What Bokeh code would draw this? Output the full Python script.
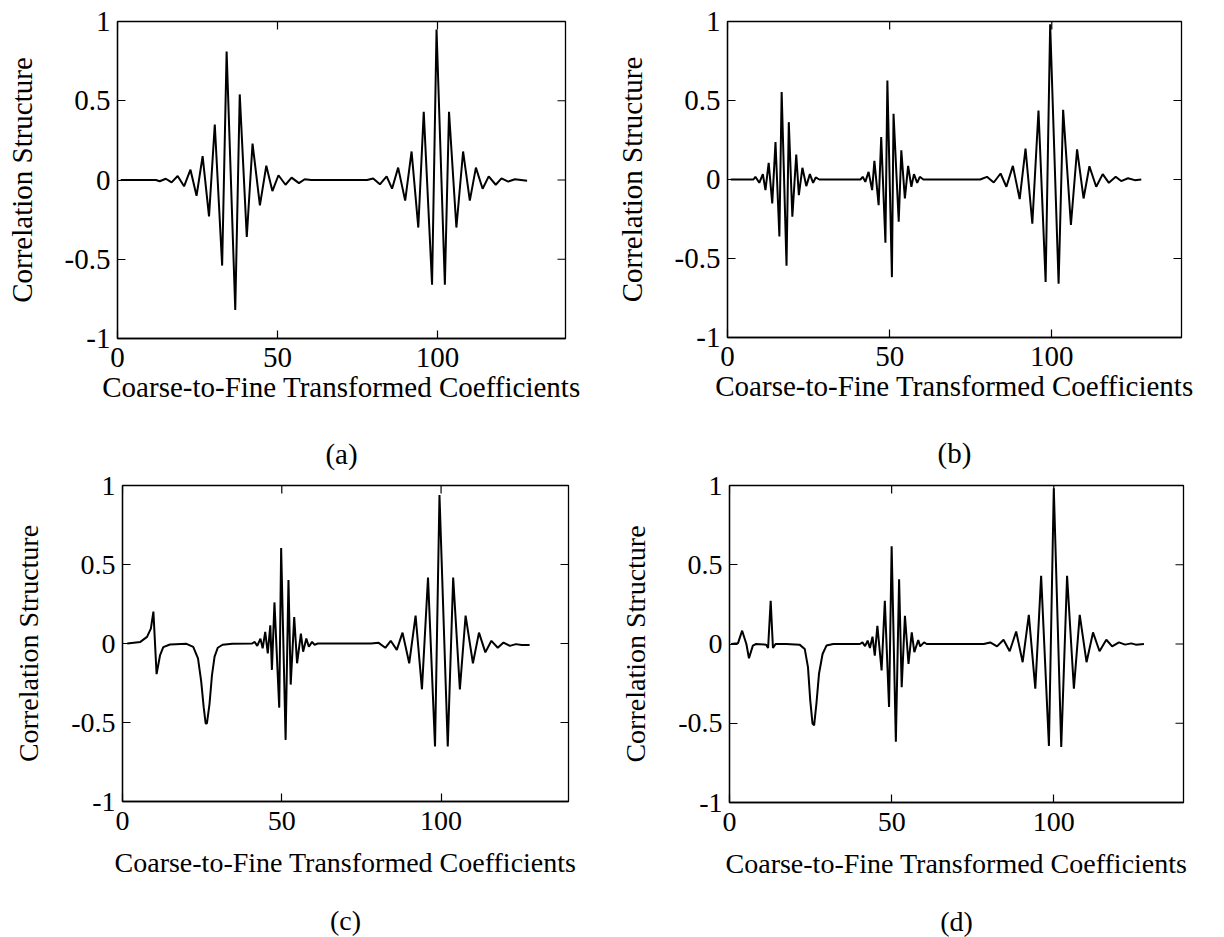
from math import pi

from bokeh.plotting import figure
from bokeh.models import Range1d, FixedTicker, LinearAxis
from bokeh.layouts import row, column
from bokeh.embed import file_html
from bokeh.resources import INLINE

FONT = "Liberation Serif"

# Correlation structure curves (vertex positions along the coefficient index)
a_x = [1, 12, 13.2, 15.1, 16.9, 18.8, 20.8, 22.8, 24.7, 26.6, 28.6, 30.4, 32.7, 34.1, 36.8, 38.2,
       40.4, 42.2, 44.5, 46.5, 48.4, 50.3, 52.5, 54.4, 56.7, 58.5, 60.5, 78, 79.9, 82.0, 84.1, 85.8,
       87.7, 89.9, 91.9, 94.0, 95.7, 98.3, 99.7, 102.3, 103.6, 105.9, 108.0, 110.1, 112.0, 114.1,
       116.0, 118.2, 120.0, 122.1, 124.2, 128]
a_y = [0, 0, -0.008, 0.008, -0.015, 0.025, -0.04, 0.065, -0.1, 0.15, -0.23, 0.35, -0.54, 0.81, -0.82, 0.54,
       -0.36, 0.23, -0.16, 0.09, -0.07, 0.03, -0.03, 0.015, -0.02, 0.005, 0, 0, 0.01, -0.027, 0.023, -0.055,
       0.078, -0.13, 0.18, -0.30, 0.43, -0.66, 0.95, -0.66, 0.43, -0.30, 0.18, -0.13, 0.078, -0.055,
       0.023, -0.03, 0.01, -0.01, 0.005, -0.004]

b_x = [1, 8, 8.6, 9.8, 10.9, 11.7, 12.7, 13.8, 14.8, 16.0, 16.7, 18.2, 18.9, 20.0, 21.2, 22.0, 23.1,
       24.3, 25.4, 26.4, 27.2, 28.3,
       41, 41.7, 42.5, 43.5, 44.6, 45.3, 46.6, 47.4, 48.7, 49.3, 50.7, 51.2, 52.8, 53.6, 54.7, 55.7,
       56.7, 57.5, 58.5, 59.3, 60.4,
       77.9, 80.0, 82.1, 84.2, 86.0, 88.0, 90.1, 91.9, 94.0, 95.9, 98.1, 99.5, 102.1, 103.5, 105.9,
       107.8, 109.8, 111.6, 113.7, 115.7, 117.6, 119.7, 121.4, 123.5, 125.6, 127.6]
b_y = [0, 0, 0.017, -0.021, 0.034, -0.067, 0.105, -0.151, 0.237, -0.361, 0.553, -0.546, 0.363, -0.235,
       0.158, -0.099, 0.074, -0.042, 0.034, -0.021, 0.013, 0,
       0, 0.017, -0.015, 0.048, -0.067, 0.118, -0.162, 0.269, -0.40, 0.626, -0.618, 0.416, -0.267, 0.185,
       -0.12, 0.086, -0.046, 0.034, -0.021, 0.017, 0,
       0, 0.017, -0.019, 0.038, -0.046, 0.086, -0.124, 0.195, -0.28, 0.437, -0.649, 0.983, -0.66, 0.441,
       -0.288, 0.191, -0.12, 0.084, -0.046, 0.034, -0.021, 0.017, -0.01, 0.008, -0.004, 0]

c_x = [1.5, 5.6, 7.7, 8.9, 9.7, 10.7, 11.8, 12.8, 14.9, 20.1, 22.2, 23.7, 24.7, 25.5, 26.1, 26.5, 27.3,
       28.1, 28.9, 29.9, 31.4, 34.5,
       40.7, 41.5, 42.3, 43.3, 44.0, 44.8, 45.6, 46.4, 46.9, 47.7, 49.2, 49.8, 51.2, 52.1, 52.8, 53.9,
       54.8, 56.0, 56.7, 57.7, 58.5, 59.5, 60.3, 61.3,
       78, 80.4, 82.5, 84.2, 86.1, 87.9, 90.0, 92.0, 94.0, 95.9, 98.1, 99.5, 102.1, 103.8, 105.9, 107.7,
       110.0, 111.9, 113.9, 115.8, 117.8, 119.6, 121.6, 123.5, 125.3, 127.8]
c_y = [0, 0.01, 0.042, 0.094, 0.202, -0.194, -0.073, -0.023, -0.006, -0.002, -0.021, -0.094, -0.24,
       -0.406, -0.506, -0.506, -0.385, -0.198, -0.083, -0.027, -0.008, -0.002,
       0, 0.01, -0.015, 0.031, -0.031, 0.073, -0.063, 0.115, -0.167, 0.26, -0.406, 0.604, -0.61, 0.402,
       -0.26, 0.167, -0.125, 0.063, -0.052, 0.031, -0.021, 0.01, -0.008, 0,
       0, 0.004, -0.027, 0.017, -0.04, 0.069, -0.125, 0.177, -0.29, 0.417, -0.652, 0.94, -0.652, 0.417,
       -0.29, 0.177, -0.125, 0.069, -0.056, 0.017, -0.027, 0.006, -0.015, -0.004, -0.01, -0.01]

d_x = [0.5, 2.6, 3.9, 5.2, 6.0, 7.2, 8.2, 11.3, 11.9, 12.7, 13.4, 14.2, 17.5, 21.6, 23.2, 24.2, 24.9,
       25.6, 26.1, 26.8, 27.6, 28.7, 29.9, 32.0,
       40.2, 41.0, 41.8, 42.6, 43.3, 44.1, 44.8, 45.6, 46.9, 47.9, 49.2, 50.0, 51.3, 52.3, 53.1, 54.1,
       55.2, 56.2, 57.0, 58.2, 58.8, 60.0, 60.8,
       78.4, 80.4, 82.5, 84.5, 86.4, 88.4, 90.4, 92.3, 94.3, 96.1, 98.5, 100.0, 102.3, 104.1, 106.2,
       108.0, 110.1, 112.1, 114.1, 116.2, 118.0, 120.1, 122.0, 123.9, 125.3, 127.8]
d_y = [0, 0.004, 0.084, 0, -0.09, -0.01, 0, -0.004, -0.025, 0.272, -0.025, 0, 0, -0.004, -0.031, -0.146,
       -0.356, -0.502, -0.513, -0.377, -0.188, -0.063, -0.01, 0,
       0, 0.01, -0.013, 0.021, -0.025, 0.046, -0.073, 0.115, -0.167, 0.272, -0.397, 0.617, -0.617, 0.408,
       -0.272, 0.178, -0.126, 0.073, -0.052, 0.025, -0.015, 0.01, 0,
       0, 0.01, -0.015, 0.027, -0.046, 0.079, -0.115, 0.184, -0.282, 0.43, -0.644, 0.983, -0.649, 0.43,
       -0.282, 0.184, -0.115, 0.073, -0.046, 0.027, -0.015, 0.01, -0.004, 0.004, -0.004, 0]

x_ticks = [0, 50, 100]
y_ticks = [-1, -0.5, 0, 0.5, 1]
x_tick_text = {0: "0", 50: "50", 100: "100"}
y_tick_text = {-1: "-1", -0.5: "-0.5", 0: "0", 0.5: "0.5", 1: "1"}
x_title = "Coarse-to-Fine Transformed Coefficients"
y_title = "Correlation Structure"
panel_tags = ["(a)", "(b)", "(c)", "(d)"]

X_LIM = (0, 140)
Y_LIM = (-1, 1)
TICK_LEN = 8


def style_axis(ax, ticks, overrides, fs):
    ax.ticker = FixedTicker(ticks=ticks)
    ax.major_label_overrides = overrides
    ax.major_tick_in = TICK_LEN
    ax.major_tick_out = 0
    ax.minor_tick_line_color = None
    ax.major_tick_line_color = "black"
    ax.major_tick_line_width = 1.2
    ax.axis_line_color = "black"
    ax.axis_line_width = 1.3
    ax.major_label_text_font = FONT
    ax.major_label_text_color = "black"
    ax.major_label_text_font_size = fs
    ax.axis_label_text_font = FONT
    ax.axis_label_text_font_style = "normal"
    ax.axis_label_text_color = "black"
    ax.axis_label_text_font_size = fs


def panel(xs, ys, tag, left, top, fw, fh, right, bottom, fs,
          xl_standoff, xa_standoff, tag_standoff):
    p = figure(frame_width=fw, frame_height=fh,
               x_range=Range1d(*X_LIM), y_range=Range1d(*Y_LIM),
               output_backend="svg", toolbar_location=None,
               min_border_left=left, min_border_top=top,
               min_border_right=right, min_border_bottom=bottom,
               x_axis_label=x_title, y_axis_label=y_title,
               background_fill_color="white", border_fill_color="white")
    p.grid.visible = False
    p.outline_line_color = "black"
    p.outline_line_width = 1.3

    style_axis(p.xaxis[0], x_ticks, x_tick_text, fs)
    style_axis(p.yaxis[0], y_ticks, y_tick_text, fs)
    p.xaxis[0].major_label_standoff = xl_standoff
    p.xaxis[0].axis_label_standoff = xa_standoff
    p.yaxis[0].major_label_standoff = 7
    p.yaxis[0].axis_label_standoff = 24

    # inward tick marks mirrored on the top and right edges of the box
    p.ray(x=x_ticks, y=[Y_LIM[1]] * len(x_ticks), length=TICK_LEN, length_units="screen",
          angle=-pi / 2, line_color="black", line_width=1.2)
    p.ray(x=[X_LIM[1]] * len(y_ticks), y=y_ticks, length=TICK_LEN, length_units="screen",
          angle=pi, line_color="black", line_width=1.2)

    p.line(xs, ys, line_color="black", line_width=2.0)

    # panel tag as the caption under the x-axis title
    cap = LinearAxis(ticker=FixedTicker(ticks=[]), axis_label=tag)
    cap.axis_line_color = None
    cap.major_tick_line_color = None
    cap.minor_tick_line_color = None
    cap.major_tick_in = 0
    cap.major_tick_out = 0
    cap.major_label_standoff = 0
    cap.axis_label_standoff = tag_standoff
    cap.axis_label_text_font = FONT
    cap.axis_label_text_font_style = "normal"
    cap.axis_label_text_color = "black"
    cap.axis_label_text_font_size = fs
    p.add_layout(cap, "below")
    return p


pa = panel(a_x, a_y, panel_tags[0], 117, 20, 448, 317, 47, 132, "29px", 9, 1, 32)
pb = panel(b_x, b_y, panel_tags[1], 113, 21, 454, 316, 45, 132, "29px", 9, 1, 32)
pc = panel(c_x, c_y, panel_tags[2], 122, 12, 446, 316, 44, 140, "28px", 10, 14, 24)
pd = panel(d_x, d_y, panel_tags[3], 117, 14, 454, 317, 41, 137, "28px", 10, 14, 24)

layout = column(row(pa, pb), row(pc, pd))

open("out.html", "w").write(file_html(layout, INLINE))
